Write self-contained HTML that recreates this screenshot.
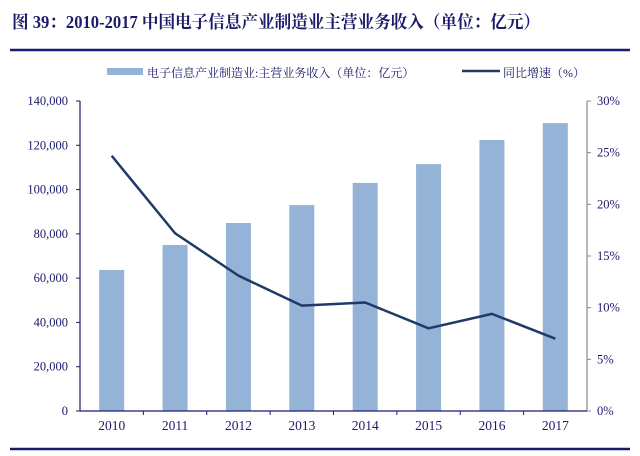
<!DOCTYPE html>
<html><head><meta charset="utf-8"><style>
html,body{margin:0;padding:0;background:#fff;}
body{width:640px;height:451px;overflow:hidden;position:relative;font-family:"Liberation Serif","Noto Serif CJK SC",serif;}
</style></head><body>
<svg width="640" height="451" xmlns="http://www.w3.org/2000/svg">
<text x="12" y="28" font-size="17.5" font-weight="bold" fill="#1b1b6b" textLength="528" lengthAdjust="spacingAndGlyphs" font-family="Liberation Serif, Noto Serif CJK SC, serif">图 39：2010-2017 中国电子信息产业制造业主营业务收入（单位：亿元）</text>
<line x1="10" y1="50" x2="630" y2="50" stroke="#1b1b6b" stroke-width="2.5"/>
<line x1="10" y1="449" x2="630" y2="449" stroke="#1b1b6b" stroke-width="2.5"/>
<g>
<rect x="107" y="68" width="36" height="7" fill="#95b3d7"/>
<text x="147" y="77" font-size="12" fill="#1b1b6b">电子信息产业制造业:主营业务收入（单位：亿元）</text>
<line x1="462" y1="71" x2="500" y2="71" stroke="#1f3a68" stroke-width="2.5"/>
<text x="503" y="77" font-size="12" fill="#1b1b6b">同比增速（%）</text>
</g>
<g id="plot"></g>
</svg>
<script>
const categories=["2010","2011","2012","2013","2014","2015","2016","2017"];
const revenue=[63700,75000,84900,93000,103000,111500,122400,130000];
const growth=[24.7,17.2,13.1,10.2,10.5,8.0,9.4,7.0];
const leftTicks=[0,20000,40000,60000,80000,100000,120000,140000];
const rightTicks=[0,5,10,15,20,25,30];
const L=80,R=587,T=101,B=411;
const yL=v=>B-(v/140000)*(B-T);
const yR=v=>B-(v/30)*(B-T);
const bw=(R-L)/categories.length;
const xC=i=>L+bw*(i+0.5);
const NS="http://www.w3.org/2000/svg";
const g=document.getElementById('plot');


function el(t,a,txt){const e=document.createElementNS(NS,t);for(const k in a)e.setAttribute(k,a[k]);if(txt!==undefined)e.textContent=txt;g.appendChild(e);return e;}
revenue.forEach((v,i)=>{
 const r=el('rect',{x:xC(i)-12.5,y:yL(v),width:25,height:B-yL(v),fill:'#95b3d7'});
 
 
});
const la=el('line',{x1:L,y1:T,x2:L,y2:B,stroke:'#1b1b6b','stroke-width':1.2});


const ra=el('line',{x1:R,y1:T,x2:R,y2:B,stroke:'#888','stroke-width':1.2});


const xa=el('line',{x1:L,y1:B,x2:R,y2:B,stroke:'#1b1b6b','stroke-width':1.2});


leftTicks.forEach(v=>{
 el('line',{x1:L-4,y1:yL(v),x2:L,y2:yL(v),stroke:'#1b1b6b'});
 const t=el('text',{x:L-12,y:yL(v)+4,'font-size':12.5,fill:'#1b1b6b','text-anchor':'end'},v.toLocaleString('en-US'));
 
 
});
rightTicks.forEach(v=>{
 el('line',{x1:R,y1:yR(v),x2:R+4,y2:yR(v),stroke:'#888'});
 const t=el('text',{x:R+10,y:yR(v)+4,'font-size':12.5,fill:'#1b1b6b'},v+'%');
 
 
});
categories.forEach((c,i)=>{
 if(i>0) el('line',{x1:L+bw*i,y1:B,x2:L+bw*i,y2:B+4,stroke:'#1b1b6b'});
 const t=el('text',{x:xC(i),y:B+19,'font-size':13.5,fill:'#1b1b6b','text-anchor':'middle'},c);
 
 
});
const pts=growth.map((v,i)=>xC(i)+','+yR(v)).join(' ');
const pl=el('polyline',{points:pts,fill:'none',stroke:'#1f3a68','stroke-width':2.5,'stroke-linejoin':'round'});


</script>
</body></html>
